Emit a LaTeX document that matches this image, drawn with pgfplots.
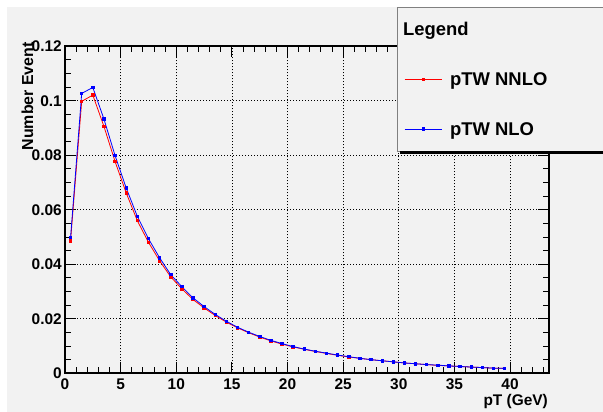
\documentclass[border=0pt]{standalone}
\usepackage{fontspec}
\setmainfont{Liberation Sans}
\usepackage{pgfplots}
\usepackage{pgfplotstable}
\pgfplotsset{compat=1.18}
\definecolor{canvas}{RGB}{242,242,242}
\definecolor{rootred}{RGB}{255,0,0}
\definecolor{rootblue}{RGB}{0,0,255}

% bin centre, NNLO, NLO
\pgfplotstableread{
pt nnlo nlo
0.5 0.0486 0.0498
1.5 0.0998 0.1027
2.5 0.1021 0.1049
3.5 0.0906 0.0933
4.5 0.0777 0.0799
5.5 0.0662 0.0680
6.5 0.0560 0.0576
7.5 0.0481 0.0494
8.5 0.0413 0.0424
9.5 0.0354 0.0362
10.5 0.0310 0.0318
11.5 0.0271 0.0277
12.5 0.0240 0.0245
13.5 0.0212 0.0216
14.5 0.0188 0.0191
15.5 0.0167 0.0169
16.5 0.0149 0.0151
17.5 0.0133 0.0135
18.5 0.0119 0.0121
19.5 0.0107 0.0109
20.5 0.0097 0.0098
21.5 0.0088 0.0089
22.5 0.0080 0.0081
23.5 0.0073 0.0074
24.5 0.0066 0.0067
25.5 0.0060 0.0061
26.5 0.0055 0.0055
27.5 0.0050 0.0050
28.5 0.0046 0.0046
29.5 0.0042 0.0042
30.5 0.0038 0.0038
31.5 0.0035 0.0035
32.5 0.0032 0.0032
33.5 0.0029 0.0030
34.5 0.0027 0.0027
35.5 0.0025 0.0025
36.5 0.0023 0.0023
37.5 0.0021 0.0021
38.5 0.0019 0.0019
39.5 0.0018 0.0018
}\pttable

\begin{document}
\begin{tikzpicture}
\useasboundingbox (0bp,0bp) rectangle (603bp,412bp);
\fill[white] (0bp,0bp) rectangle (603bp,412bp);
\fill[canvas] (7bp,0bp) rectangle (603bp,405bp);
\begin{axis}[
  at={(65bp,38.7bp)}, anchor=south west,
  scale only axis, width=484bp, height=327bp,
  xmin=0, xmax=43.5, ymin=0, ymax=0.12,
  xtick={0,5,...,40}, xticklabels={0,5,10,15,20,25,30,35,40},
  ytick={0,0.02,0.04,0.06,0.08,0.1,0.12},
  yticklabels={0,0.02,0.04,0.06,0.08,0.1,0.12},
  minor xtick={1,2,...,43},
  minor ytick={0.005,0.01,...,0.118},
  tick pos=both, tick align=inside,
  major tick length=11bp, minor tick length=6bp,
  tick style={black, line width=1bp},
  axis line style={black, line width=1.6bp},
  grid=major,
  major grid style={black, line width=0.7bp, dash pattern=on 1bp off 2bp},
  ticklabel style={font=\bfseries\fontsize{15.5}{17}\selectfont},
  xticklabel style={anchor=base, inner sep=0pt, yshift=-16.5bp},
  yticklabel style={anchor=east, inner sep=0pt, xshift=-3bp},
  xlabel={pT (GeV)},
  xlabel style={at={(axis description cs:0.998,-0.097)}, anchor=base east,
    inner sep=0pt, font=\bfseries\fontsize{15.5}{17}\selectfont},
  ylabel={Number Event},
  ylabel style={at={(axis description cs:-0.066,1.013)}, anchor=base east,
    inner sep=0pt, font=\bfseries\fontsize{16}{18}\selectfont},
  legend cell align=left,
  legend image code/.code={%
    \draw[mark repeat=2,mark phase=2,#1] plot coordinates {(0bp,0bp)(18.5bp,0bp)(37bp,0bp)};},
  legend style={name=leg, at={(axis description cs:0.686,1.120)}, anchor=north west,
    fill=canvas, draw=black!50, line width=0.6bp,
    inner xsep=7bp, inner ysep=14bp, row sep=34.5bp, column sep=8bp,
    font=\bfseries\fontsize{18.5}{20}\selectfont, nodes={inner sep=0pt}},
]
\addlegendimage{empty legend}
\addlegendentry{\rule[-5bp]{0pt}{19bp}\hspace*{-47bp}Legend}
\addplot[rootred, line width=0.8bp, mark=square*, mark size=1.2bp] table[x=pt, y=nnlo] {\pttable};
\addlegendentry{\rule[-5bp]{0pt}{19bp}pTW NNLO\hspace*{60bp}}
\addplot[rootblue, line width=0.8bp, mark=square*, mark size=1.2bp] table[x=pt, y=nlo] {\pttable};
\addlegendentry{\rule[-5bp]{0pt}{19bp}pTW NLO}
\end{axis}
% ROOT-style legend shadow below the box
\fill[black] ([xshift=3bp]leg.south west) rectangle ([yshift=-3bp]leg.south east);
\end{tikzpicture}
\end{document}
